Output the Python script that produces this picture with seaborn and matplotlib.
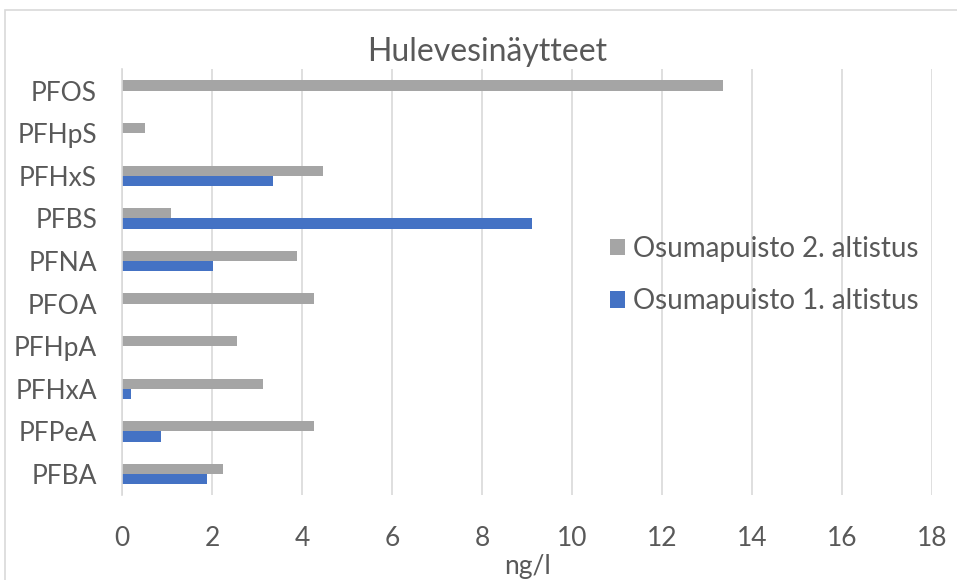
import pandas as pd
import numpy as np
import matplotlib.pyplot as plt
import seaborn as sns
from matplotlib.patches import Patch, Rectangle

# data (ng/l)
compounds = ['PFOS', 'PFHpS', 'PFHxS', 'PFBS', 'PFNA',
             'PFOA', 'PFHpA', 'PFHxA', 'PFPeA', 'PFBA']
altistus_2 = [13.36, 0.50, 4.46, 1.09, 3.88, 4.27, 2.55, 3.13, 4.27, 2.24]
altistus_1 = [np.nan, np.nan, 3.35, 9.12, 2.02, np.nan, np.nan, 0.20, 0.87, 1.88]

series_names = ['Osumapuisto 2. altistus', 'Osumapuisto 1. altistus']
colors = ['#A5A5A5', '#4472C4']

df = pd.concat([
    pd.DataFrame({'yhdiste': compounds, 'ng/l': altistus_2, 'sarja': series_names[0]}),
    pd.DataFrame({'yhdiste': compounds, 'ng/l': altistus_1, 'sarja': series_names[1]}),
], ignore_index=True)

sns.set_style('white')
plt.rcParams['font.family'] = ['Lato', 'DejaVu Sans']
txt = '#595959'

fig = plt.figure(figsize=(9.57, 5.8), dpi=100)
ax = fig.add_axes([0.1275, 0.146, 0.8465, 0.7345])

sns.barplot(data=df, y='yhdiste', x='ng/l', hue='sarja', hue_order=series_names,
            palette=colors, orient='h', width=0.48, saturation=1,
            linewidth=0, legend=False, ax=ax)

ax.set_xlim(0, 18)
ax.set_xticks(range(0, 19, 2))
ax.xaxis.grid(True, color='#d9d9d9', linewidth=1.2)
ax.yaxis.grid(False)
ax.set_axisbelow(True)
for s in ['top', 'right', 'bottom']:
    ax.spines[s].set_visible(False)
ax.spines['left'].set_color('#d9d9d9')
ax.spines['left'].set_linewidth(1.2)

ax.tick_params(axis='y', length=0, pad=18, labelsize=19, labelcolor=txt)
ax.tick_params(axis='x', length=0, pad=22, labelsize=19, labelcolor=txt)
ax.set_ylabel('')
ax.set_xlabel('ng/l', fontsize=19, color=txt, labelpad=2)

fig.text(0.509, 1 - 52 / 580, 'Hulevesinäytteet', ha='center', va='center',
         fontsize=23, color=txt)

handles = [Patch(facecolor=c, edgecolor='none') for c in colors]
fig.legend(handles, series_names, loc='center left', bbox_to_anchor=(0.637, 0.526),
           frameon=False, fontsize=20, labelcolor=txt, handlelength=0.55,
           handleheight=0.55, handletextpad=0.3, labelspacing=0.95,
           borderpad=0, borderaxespad=0)

# chart area border
fig.patches.append(Rectangle((0.005, -0.05), 1.2, 1.05 - 10 / 580,
                             transform=fig.transFigure, fill=False,
                             edgecolor='#d9d9d9', linewidth=1.2))

fig.savefig('out.png', dpi=100)
